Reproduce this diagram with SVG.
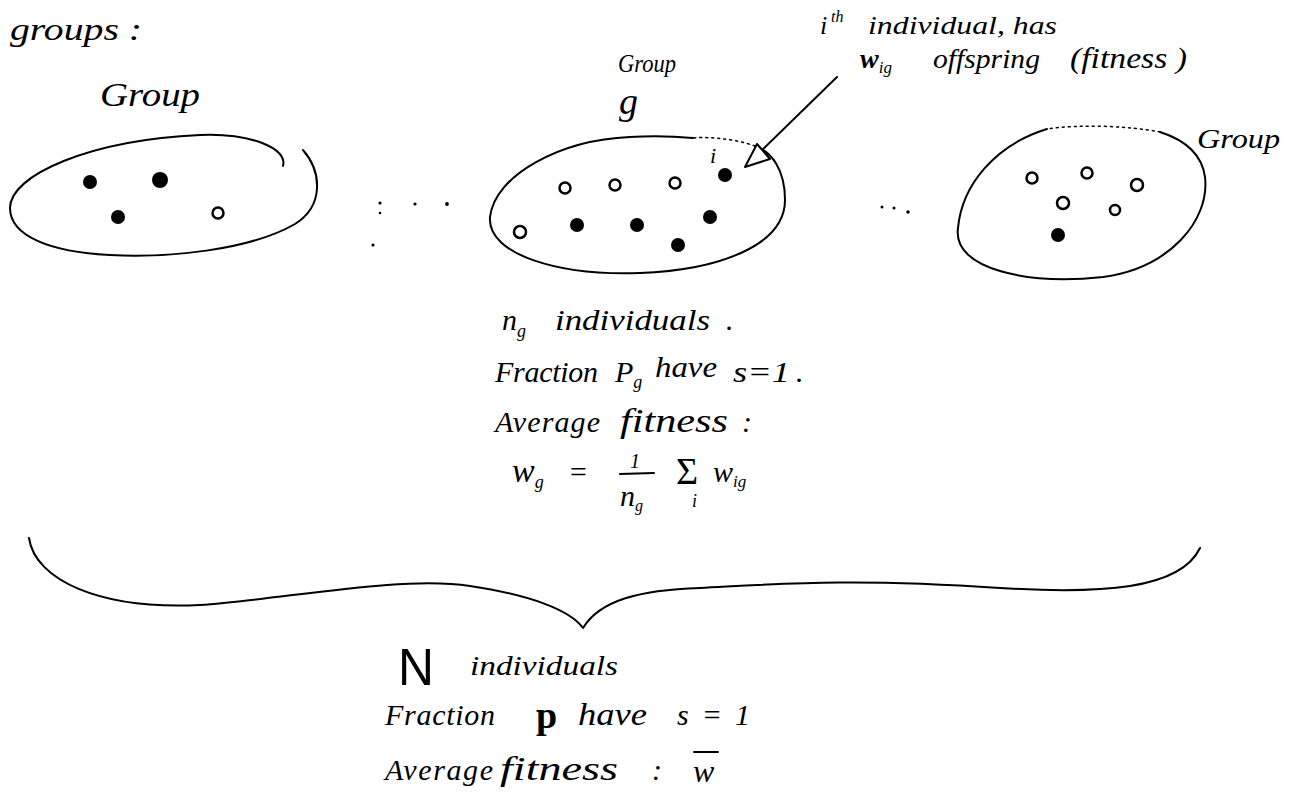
<svg xmlns="http://www.w3.org/2000/svg" width="1304" height="809" viewBox="0 0 1304 809">
<style>
.t{font-family:"Liberation Serif","DejaVu Serif",serif;font-style:italic;fill:#000}
.up{font-style:normal}
.ln{fill:none;stroke:#000;stroke-width:2;stroke-linecap:round;stroke-linejoin:round}
.thin{fill:none;stroke:#000;stroke-width:1.5;stroke-linecap:round}
.fd{fill:#000}
.hd{fill:#fff;stroke:#000;stroke-width:2.5}
.sd{fill:#000}
</style>
<rect width="1304" height="809" fill="#fff"/>

<text class="t" x="10" y="40" font-size="32" textLength="132" lengthAdjust="spacingAndGlyphs">groups :</text>

<g id="group1">
  <text class="t" x="100" y="106" font-size="34" textLength="100" lengthAdjust="spacingAndGlyphs">Group</text>
  <path class="ln" d="M303,150 C322,172 324,206 295,224 C250,250 170,258 110,255 C50,252 10,236 10,208 C10,175 90,140 200,135 C250,133 288,148 283,166"/>
  <circle class="fd" cx="90" cy="182" r="7"/>
  <circle class="fd" cx="160" cy="180" r="8"/>
  <circle class="fd" cx="118" cy="217" r="7"/>
  <circle class="hd" cx="218" cy="213" r="5.5"/>
</g>

<g id="dots1">
  <circle class="sd" cx="380" cy="203" r="1.6"/>
  <circle class="sd" cx="380" cy="213" r="1.3"/>
  <circle class="sd" cx="415" cy="204" r="1.6"/>
  <circle class="sd" cx="447" cy="204" r="1.9"/>
  <circle class="sd" cx="373" cy="245" r="1.6"/>
</g>

<g id="groupg">
  <text class="t" x="618" y="72" font-size="26" textLength="58" lengthAdjust="spacingAndGlyphs">Group</text>
  <text class="t" x="619" y="114" font-size="38">g</text>
  <path class="ln" d="M630,137 C560,140 495,175 490,217 C487,255 560,276 640,273 C720,270 785,245 785,200 C785,170 772,152 755,146"/>
  <path class="thin" d="M755,146 C730,137 700,137 693,138" stroke-dasharray="2 4"/>
  <path class="ln" d="M693,138 C670,136 650,136 630,137"/>
  <text class="t" x="710" y="163" font-size="22">i</text>
  <circle class="hd" cx="565" cy="188" r="5.5"/>
  <circle class="hd" cx="615" cy="185" r="5.5"/>
  <circle class="hd" cx="675" cy="183" r="5.5"/>
  <circle class="fd" cx="725" cy="175" r="7"/>
  <circle class="hd" cx="520" cy="232" r="6"/>
  <circle class="fd" cx="577" cy="225" r="7"/>
  <circle class="fd" cx="637" cy="225" r="7"/>
  <circle class="fd" cx="710" cy="217" r="7"/>
  <circle class="fd" cx="678" cy="245" r="7"/>
</g>

<g id="dots2">
  <circle class="sd" cx="882" cy="207" r="1.5"/>
  <circle class="sd" cx="894" cy="208" r="1.5"/>
  <circle class="sd" cx="908" cy="212" r="1.8"/>
</g>

<g id="group3">
  <text class="t" x="1197" y="148" font-size="28" textLength="83" lengthAdjust="spacingAndGlyphs">Group</text>
  <path class="ln" d="M1047,129 C995,145 962,185 958,228 C952,270 1030,285 1103,277 C1170,268 1210,220 1205,177 C1202,155 1185,140 1160,132"/>
  <path class="thin" d="M1160,132 C1130,126 1080,124 1047,129" stroke-dasharray="2 4"/>
  <circle class="hd" cx="1032" cy="178" r="5.5"/>
  <circle class="hd" cx="1087" cy="173" r="5.5"/>
  <circle class="hd" cx="1137" cy="185" r="6"/>
  <circle class="hd" cx="1063" cy="203" r="6"/>
  <circle class="hd" cx="1115" cy="210" r="5"/>
  <circle class="fd" cx="1058" cy="235" r="7"/>
</g>

<g id="individual-label">
  <text class="t" x="820" y="34" font-size="26">i</text>
  <text class="t" x="831" y="22" font-size="16">th</text>
  <text class="t" x="868" y="34" font-size="26" textLength="189" lengthAdjust="spacingAndGlyphs">individual, has</text>
  <text class="t" x="860" y="68" font-size="28"><tspan font-weight="bold">w</tspan><tspan font-size="17" dy="5">ig</tspan></text>
  <text class="t" x="933" y="68" font-size="28" textLength="107" lengthAdjust="spacingAndGlyphs">offspring</text>
  <text class="t" x="1070" y="68" font-size="30" textLength="117" lengthAdjust="spacingAndGlyphs">(fitness )</text>
</g>

<g id="connectors">
  <path class="ln" d="M837,77 L757,155"/>
  <polygon points="745,167 757,144 770,159" fill="#fff" stroke="#000" stroke-width="2" stroke-linejoin="round"/>
  <path class="ln" d="M29,538 C35,580 100,610 200,605 C280,600 400,575 470,586 C530,595 570,610 583,628 C600,600 640,590 700,588 C780,584 850,578 1000,588 C1100,594 1180,590 1200,548"/>
</g>

<g id="group-stats">
  <text class="t" x="502" y="330" font-size="30">n<tspan font-size="18" dy="7">g</tspan></text>
  <text class="t" x="555" y="330" font-size="30" textLength="155" lengthAdjust="spacingAndGlyphs">individuals</text>
  <text class="t" x="726" y="330" font-size="30">.</text>
  <text class="t" x="495" y="382" font-size="30" textLength="103" lengthAdjust="spacing">Fraction</text>
  <text class="t" x="615" y="382" font-size="30">P<tspan font-size="18" dy="6">g</tspan></text>
  <text class="t" x="655" y="377" font-size="30" textLength="62" lengthAdjust="spacingAndGlyphs">have</text>
  <text class="t" x="733" y="382" font-size="30" textLength="57" lengthAdjust="spacingAndGlyphs">s=1</text>
  <text class="t" x="796" y="382" font-size="30">.</text>
  <text class="t" x="495" y="432" font-size="30" textLength="105" lengthAdjust="spacing">Average</text>
  <text class="t" x="620" y="432" font-size="34" textLength="108" lengthAdjust="spacingAndGlyphs">fitness</text>
  <text class="t" x="742" y="432" font-size="30">:</text>
  <text class="t" x="512" y="482" font-size="34">w<tspan font-size="18" dy="6">g</tspan></text>
  <text class="t" x="568" y="482" font-size="30">=</text>
  <text class="t" x="630" y="468" font-size="20">1</text>
  <path class="ln" d="M620,474 L654,473"/>
  <text class="t" x="620" y="506" font-size="30">n<tspan font-size="16" dy="5">g</tspan></text>
  <text class="t up" x="676" y="484" font-size="38">Σ</text>
  <text class="t" x="692" y="507" font-size="18">i</text>
  <text class="t" x="713" y="482" font-size="30">w<tspan font-size="17" dy="5">ig</tspan></text>
</g>

<g id="population-stats">
  <text class="t up" x="398" y="685" font-size="52" style="font-family:'Liberation Sans',sans-serif" textLength="36" lengthAdjust="spacingAndGlyphs">N</text>
  <text class="t" x="470" y="675" font-size="28" textLength="148" lengthAdjust="spacingAndGlyphs">individuals</text>
  <text class="t" x="385" y="725" font-size="30" textLength="110" lengthAdjust="spacing">Fraction</text>
  <text class="t up" x="536" y="728" font-size="38" font-weight="bold">p</text>
  <text class="t" x="578" y="725" font-size="32" textLength="69" lengthAdjust="spacingAndGlyphs">have</text>
  <text class="t" x="677" y="725" font-size="30" textLength="73" lengthAdjust="spacing">s = 1</text>
  <text class="t" x="385" y="780" font-size="30" textLength="108" lengthAdjust="spacing">Average</text>
  <text class="t" x="500" y="780" font-size="34" textLength="118" lengthAdjust="spacingAndGlyphs">fitness</text>
  <text class="t" x="652" y="780" font-size="30">:</text>
  <text class="t" x="693" y="782" font-size="32">w</text>
  <path class="ln" d="M694,752 L718,752" stroke-width="3"/>
</g>
</svg>
